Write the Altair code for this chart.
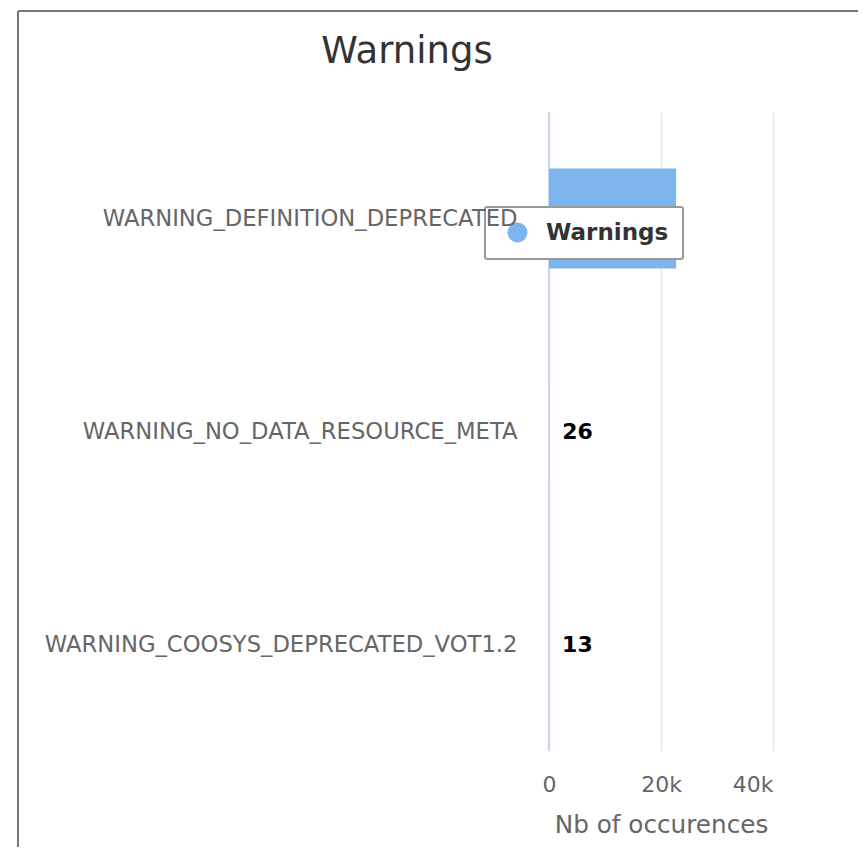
import altair as alt
import pandas as pd

categories = [
    "WARNING_DEFINITION_DEPRECATED",
    "WARNING_NO_DATA_RESOURCE_META",
    "WARNING_COOSYS_DEPRECATED_VOT1.2",
]
counts = [22700, 26, 13]
series = ["Warnings", "Warnings", "Warnings"]
x_ticks = [0, 20000, 40000]
chart_title = "Warnings"

df = pd.DataFrame({"category": categories, "count": counts, "series": series})

FONT = "DejaVu Sans"

y_enc = alt.Y(
    "category:N",
    sort=None,
    title=None,
    scale=alt.Scale(paddingInner=0.53, paddingOuter=0.265),
    axis=alt.Axis(
        labelFont=FONT, labelFontSize=22.7, labelColor="#666666",
        labelPadding=32, ticks=False, domain=False, labelLimit=600, zindex=2,
    ),
)
x_enc = alt.X(
    "count:Q",
    title="Nb of occurences",
    scale=alt.Scale(domain=[0, 40000], nice=False),
    axis=alt.Axis(
        values=x_ticks, labelExpr="datum.value == 0 ? '0' : (datum.value/1000) + 'k'",
        labelFlush=False,
        labelAlign=alt.ConditionalAxisLabelAlign(
            condition={"test": "datum.value == 40000", "value": "right"}, value="center"
        ),
        labelFont=FONT, labelFontSize=22, labelColor="#666666", labelPadding=23,
        ticks=False, domain=False, grid=True, gridColor="#e6e6e6", gridWidth=1.5,
        titleFont=FONT, titleFontSize=24.7, titleFontWeight="normal",
        titleColor="#666666", titlePadding=17,
    ),
)

zero_line = alt.Chart(alt.Data(values=[{}])).mark_rule(
    color="#ccd6eb", strokeWidth=2
).encode(x=alt.datum(0))

bars = alt.Chart(df).mark_bar(color="#7cb5ec").encode(
    x=x_enc,
    y=y_enc,
    color=alt.Color(
        "series:N",
        scale=alt.Scale(range=["#7cb5ec"]),
        legend=alt.Legend(
            title=None, orient="none", legendX=-64, legendY=95,
            fillColor="white", strokeColor="#999999",
            cornerRadius=2, padding=14, symbolType="circle", symbolSize=400,
            symbolOffset=7, symbolStrokeWidth=0, zindex=1,
            labelFont=FONT, labelFontSize=23, labelFontWeight="bold",
            labelColor="#333333", labelOffset=17, labelLimit=300,
        ),
    ),
)

labels = alt.Chart(df).transform_filter("datum.count < 1000").mark_text(
    align="left", baseline="middle", dx=13, font=FONT, fontSize=22,
    fontWeight="bold", color="#000000",
).encode(x="count:Q", y=alt.Y("category:N", sort=None), text="count:Q")

title = alt.Chart(alt.Data(values=[{"t": chart_title}])).mark_text(
    align="center", baseline="alphabetic", font=FONT, fontSize=37,
    color="#333333", clip=False,
).encode(x=alt.value(-142), y=alt.value(-49), text="t:N")

border = alt.Chart(alt.Data(values=[{}])).mark_rule(
    color="#777777", strokeWidth=2, clip=False
)
top_line = border.encode(x=alt.value(-531), x2=alt.value(330), y=alt.value(-101))
left_line = border.encode(x=alt.value(-531), y=alt.value(-101), y2=alt.value(740))

chart = alt.layer(zero_line, bars, labels, title, top_line, left_line).properties(
    width=224,
    height=639,
    autosize=alt.AutoSizeParams(type="none"),
    padding={"left": 541, "top": 104, "right": 85, "bottom": 96},
).configure_view(stroke=None).configure_legend(strokeWidth=2)

chart.save("out.html", embed_options={"renderer": "svg", "actions": False})
